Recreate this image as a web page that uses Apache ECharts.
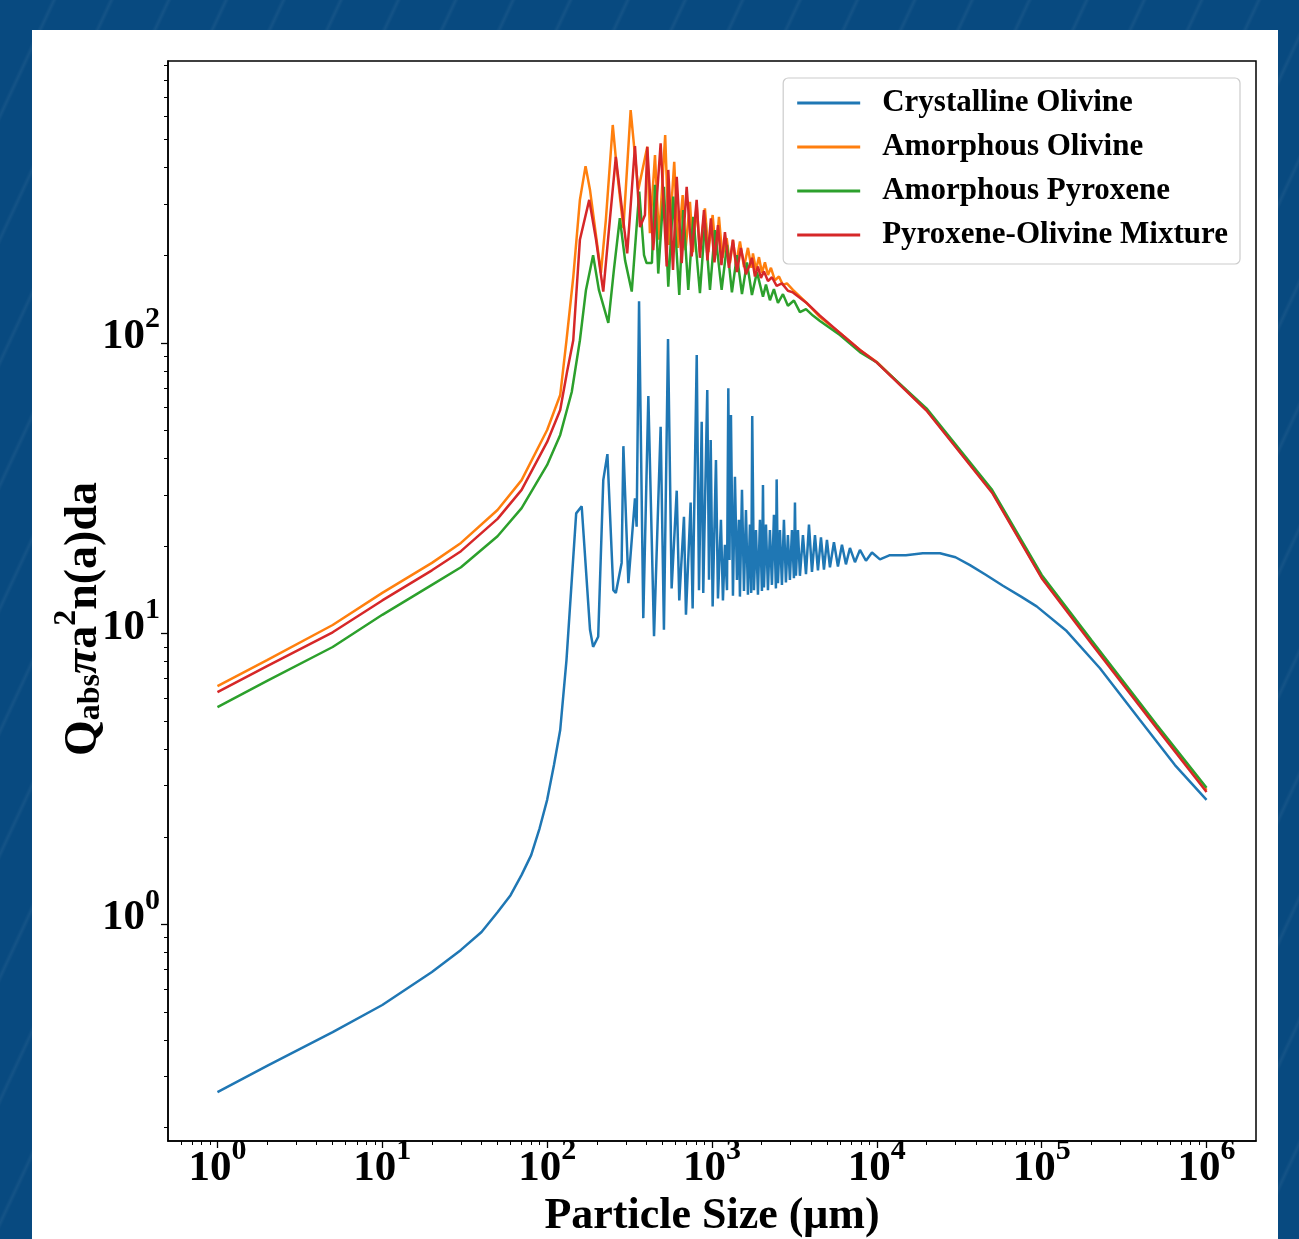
<!DOCTYPE html>
<html>
<head>
<meta charset="utf-8">
<title>Absorption vs particle size</title>
<script src="https://cdn.jsdelivr.net/npm/echarts@6/dist/echarts.min.js"></script>
<style>
  html, body { margin: 0; padding: 0; }
  body {
    width: 1299px; height: 1239px; overflow: hidden; position: relative;
    background-color: #084a80;
    background-image: repeating-linear-gradient(115deg, rgba(255,255,255,0) 0px, rgba(255,255,255,0) 46px, rgba(255,255,255,0.05) 49px, rgba(255,255,255,0) 52px);
  }
  #chart { position: absolute; left: 32px; top: 30px; width: 1246px; height: 1209px; background: #fff; }
</style>
</head>
<body>
<div id="chart"></div>
<script>
// particle size (um) , Q_abs * pi a^2 n(a) da
const crystallineOlivine = [
  [1, 0.265], [2, 0.326], [5, 0.426], [10, 0.528], [20, 0.686], [30, 0.817], [40, 0.941],
  [50, 1.10], [60, 1.26], [70, 1.48], [80, 1.73], [90, 2.14], [100, 2.68], [110, 3.53],
  [120, 4.66], [131, 8.1], [150, 25.9], [162, 27.4], [182, 10.3], [190, 9.0], [204, 9.75],
  [219, 33.7], [232, 41.4], [252, 14.1], [261, 13.8], [283, 17.5], [290, 44.1], [311, 14.9],
  [341, 29.2], [349, 23.3], [361, 139], [383, 11.3], [411, 65.6], [445, 9.8], [488, 51.4],
  [511, 10.3], [541, 103], [569, 14.3], [611, 31.0], [633, 13.0], [676, 25.2], [695, 11.6],
  [742, 28.2], [763, 12.2], [808, 90.7], [834, 14.1], [866, 53.5], [885, 13.8], [936, 68.8],
  [959, 15.3], [982, 46.3], [1009, 12.4], [1057, 39.5], [1087, 13.2], [1133, 24.6],
  [1165, 13.0], [1198, 20.2], [1233, 14.1], [1256, 69.7], [1276, 17.9], [1303, 56.4],
  [1340, 13.5], [1378, 34.6], [1417, 15.3], [1456, 24.6], [1477, 13.4], [1520, 31.2],
  [1563, 14.0], [1607, 26.6], [1652, 13.6], [1699, 23.7], [1730, 13.8], [1754, 56.0],
  [1797, 14.1], [1848, 22.7], [1900, 13.6], [1954, 24.6], [2009, 14.0], [2038, 32.4],
  [2066, 14.4], [2125, 23.7], [2185, 14.1], [2246, 22.7], [2310, 14.7], [2375, 25.6],
  [2442, 14.3], [2467, 33.9], [2512, 14.9], [2583, 22.7], [2656, 14.7], [2731, 24.6],
  [2808, 15.0], [2887, 21.8], [2969, 15.3], [3055, 22.7], [3141, 15.5], [3186, 28.2],
  [3230, 15.8], [3321, 22.7], [3415, 15.8], [3562, 21.8], [3716, 16.0], [3875, 23.7],
  [4041, 16.3], [4213, 21.8], [4393, 16.5], [4581, 21.4], [4777, 16.6], [4981, 21.0],
  [5194, 16.9], [5492, 20.6], [5808, 17.0], [6142, 20.2], [6494, 17.3], [6868, 19.7],
  [7365, 17.6], [7898, 19.4], [8590, 17.8], [9340, 19.0], [10440, 18.0], [12000, 18.6],
  [15000, 18.6], [19000, 18.9], [24150, 18.9], [30000, 18.3], [36730, 17.2], [46000, 15.9],
  [58200, 14.6], [75000, 13.4], [93200, 12.4], [141700, 10.2], [225600, 7.6], [394400, 5.04],
  [643000, 3.53], [1000000, 2.68]
];

const amorphousOlivine = [
  [1, 6.60], [2, 8.11], [5, 10.7], [10, 13.8], [20, 17.5], [30, 20.5], [50, 26.6],
  [70, 33.7], [100, 50.1], [120, 66.1], [131, 102], [144, 168], [158, 310], [171, 405],
  [182, 335], [212, 174], [227, 264], [250, 561], [265, 393], [290, 248], [321, 631],
  [357, 335], [405, 472], [420, 238], [451, 442], [477, 226], [520, 518], [548, 217],
  [590, 419], [622, 212], [664, 322], [690, 208], [735, 305], [766, 205], [807, 298],
  [845, 205], [906, 290], [951, 205], [1009, 275], [1057, 200], [1102, 271], [1157, 196],
  [1227, 229], [1285, 188], [1340, 226], [1397, 185], [1478, 223], [1563, 182],
  [1652, 212], [1735, 181], [1772, 203], [1848, 178], [1927, 197], [2009, 174],
  [2095, 189], [2185, 171], [2278, 181], [2408, 164], [2547, 169], [2694, 158],
  [2848, 160], [3097, 152], [3751, 137], [4518, 122.5], [5971, 108], [7900, 94.4],
  [10000, 85.9], [20000, 58.7], [50000, 30.7], [100000, 15.6], [200000, 9.35],
  [500000, 4.77], [1000000, 2.90]
];

const amorphousPyroxene = [
  [1, 5.59], [2, 6.87], [5, 8.99], [10, 11.6], [20, 14.7], [30, 16.9], [50, 21.6],
  [70, 27.0], [100, 38.0], [120, 48.2], [141, 67.7], [158, 102], [172, 152], [190, 200],
  [206, 152], [235, 117], [254, 178], [276, 268], [297, 192], [326, 150], [362, 331],
  [387, 200], [401, 188], [432, 188], [451, 349], [472, 173], [511, 344], [543, 156],
  [582, 318], [633, 146], [669, 286], [718, 152], [770, 271], [845, 148], [906, 258],
  [972, 152], [1042, 244], [1144, 152], [1233, 217], [1321, 149], [1417, 200],
  [1520, 147], [1630, 189], [1747, 146], [1874, 175], [2038, 144], [2125, 158.5],
  [2246, 140], [2375, 153], [2512, 137], [2694, 147], [2887, 134], [3141, 139.8],
  [3415, 127.5], [3716, 130.6], [4095, 124], [4518, 118.8], [5971, 106.3], [7900, 92.9],
  [10000, 85.5], [20000, 59.5], [50000, 31.2], [100000, 15.9], [200000, 9.5],
  [500000, 4.85], [1000000, 2.95]
];

const pyroxeneOlivineMix = [
  [1, 6.29], [2, 7.73], [5, 10.1], [10, 13.0], [20, 16.5], [30, 19.2], [50, 24.8],
  [70, 31.2], [100, 45.6], [120, 58.7], [132, 79.3], [144, 102], [158, 226], [180, 310],
  [198, 226], [219, 150], [240, 264], [261, 436], [280, 310], [306, 203], [341, 475],
  [366, 250], [392, 275], [405, 472], [440, 208], [488, 485], [531, 183], [543, 393],
  [580, 178], [611, 372], [655, 188], [702, 344], [753, 198], [807, 310], [845, 196],
  [894, 286], [938, 192], [985, 268], [1035, 189], [1087, 254], [1141, 185], [1198, 240],
  [1267, 181], [1340, 226], [1417, 175], [1498, 212], [1607, 172], [1699, 186],
  [1747, 196], [1822, 169], [1900, 183], [1981, 167], [2066, 176], [2185, 163],
  [2310, 168], [2467, 157], [2656, 160], [2887, 151], [3097, 149], [3751, 137],
  [4518, 124], [5971, 108], [7900, 94.4], [10000, 85.5], [20000, 58.5], [50000, 30.5],
  [100000, 15.5], [200000, 9.25], [500000, 4.72], [1000000, 2.85]
];

const seriesNames = ['Crystalline Olivine', 'Amorphous Olivine', 'Amorphous Pyroxene', 'Pyroxene-Olivine Mixture'];
const seriesColors = ['#1f77b4', '#ff7f0e', '#2ca02c', '#d62728'];
const seriesData = [crystallineOlivine, amorphousOlivine, amorphousPyroxene, pyroxeneOlivineMix];

const xMajorTicks = [1, 10, 100, 1000, 10000, 100000, 1000000];
const yMajorTicks = [1, 10, 100];
// axis limits (matplotlib-style 5% log margins)
const xRange = [0.5012, 1995262];
const yRange = [0.1799, 931];

function minorTicks(range) {
  const out = [];
  for (let e = -2; e <= 7; e++) {
    for (let k = 2; k <= 9; k++) {
      const v = k * Math.pow(10, e);
      if (v > range[0] && v < range[1]) out.push(v);
    }
  }
  return out;
}

const FONT = "'Liberation Serif', 'Times New Roman', serif";
const tickRich = {
  b: { fontFamily: FONT, fontWeight: 'bold', fontSize: 43, lineHeight: 43, color: '#000', verticalAlign: 'bottom' },
  sup: { fontFamily: FONT, fontWeight: 'bold', fontSize: 30, lineHeight: 30, color: '#000', verticalAlign: 'bottom', padding: [0, 0, 24, 0] }
};
const powLabel = v => '{b|10}{sup|' + Math.round(Math.log10(v)) + '}';

const titleRich = {
  m: { fontFamily: FONT, fontWeight: 'bold', fontSize: 46, lineHeight: 46, verticalAlign: 'bottom', color: '#000' },
  pi: { fontFamily: FONT, fontWeight: 'bold', fontStyle: 'italic', fontSize: 46, lineHeight: 46, verticalAlign: 'bottom', color: '#000' },
  sub: { fontFamily: FONT, fontWeight: 'bold', fontSize: 32, lineHeight: 32, verticalAlign: 'bottom', color: '#000' },
  sup: { fontFamily: FONT, fontWeight: 'bold', fontSize: 32, lineHeight: 32, verticalAlign: 'bottom', padding: [0, 0, 24, 0], color: '#000' }
};

const chart = echarts.init(document.getElementById('chart'));

chart.setOption({
  animation: false,
  backgroundColor: '#ffffff',
  grid: {
    left: 136, top: 31, width: 1088, height: 1080,
    show: true, borderColor: '#000', borderWidth: 1.5,
    containLabel: false, outerBoundsMode: 'none'
  },
  legend: {
    orient: 'vertical',
    right: 38, top: 48,
    data: seriesNames,
    icon: 'rect',
    itemWidth: 63, itemHeight: 3, itemGap: 10,
    padding: [8, 12, 12, 14],
    backgroundColor: 'rgba(255,255,255,0.85)',
    borderColor: '#cccccc', borderWidth: 1.2, borderRadius: 5,
    textStyle: { fontFamily: FONT, fontWeight: 'bold', fontSize: 31, lineHeight: 34, color: '#000', padding: [0, 0, 0, 17] }
  },
  xAxis: [
    {
      type: 'log', min: xRange[0], max: xRange[1], position: 'bottom',
      name: 'Particle Size (μm)', nameLocation: 'middle', nameGap: 54,
      nameTextStyle: { fontFamily: FONT, fontWeight: 'bold', fontSize: 44, color: '#000' },
      axisLine: { show: true, lineStyle: { color: '#000', width: 1.5 } },
      axisTick: { show: true, length: 7, lineStyle: { color: '#000', width: 1.3 }, customValues: xMajorTicks },
      axisLabel: { margin: 6, customValues: xMajorTicks, formatter: powLabel, rich: tickRich },
      splitLine: { show: false }
    },
    {
      type: 'log', min: xRange[0], max: xRange[1], position: 'bottom',
      axisLine: { show: false },
      axisTick: { show: true, length: 4, lineStyle: { color: '#000', width: 1 }, customValues: minorTicks(xRange) },
      axisLabel: { show: false },
      splitLine: { show: false }
    }
  ],
  yAxis: [
    {
      type: 'log', min: yRange[0], max: yRange[1], position: 'left',
      name: '{m|Q}{sub|abs}{pi|π}{m|a}{sup|2}{m|n(a)da}',
      nameLocation: 'middle', nameRotate: 90, nameGap: 61, nameMoveOverlap: false,
      nameTextStyle: { fontFamily: FONT, fontWeight: 'bold', fontSize: 46, color: '#000', padding: [0, 36, 0, 0], rich: titleRich },
      axisLine: { show: true, lineStyle: { color: '#000', width: 1.5 } },
      axisTick: { show: true, length: 7, lineStyle: { color: '#000', width: 1.3 }, customValues: yMajorTicks },
      axisLabel: { margin: 8, padding: [0, 0, 12, 0], customValues: yMajorTicks, formatter: powLabel, rich: tickRich },
      splitLine: { show: false }
    },
    {
      type: 'log', min: yRange[0], max: yRange[1], position: 'left',
      axisLine: { show: false },
      axisTick: { show: true, length: 4, lineStyle: { color: '#000', width: 1 }, customValues: minorTicks(yRange) },
      axisLabel: { show: false },
      splitLine: { show: false }
    }
  ],
  series: seriesData.map((data, i) => ({
    name: seriesNames[i],
    type: 'line',
    data: data,
    xAxisIndex: 0,
    yAxisIndex: 0,
    symbol: 'none',
    color: seriesColors[i],
    lineStyle: { width: 2.5, color: seriesColors[i] },
    z: 2 + i
  }))
});
</script>
</body>
</html>
